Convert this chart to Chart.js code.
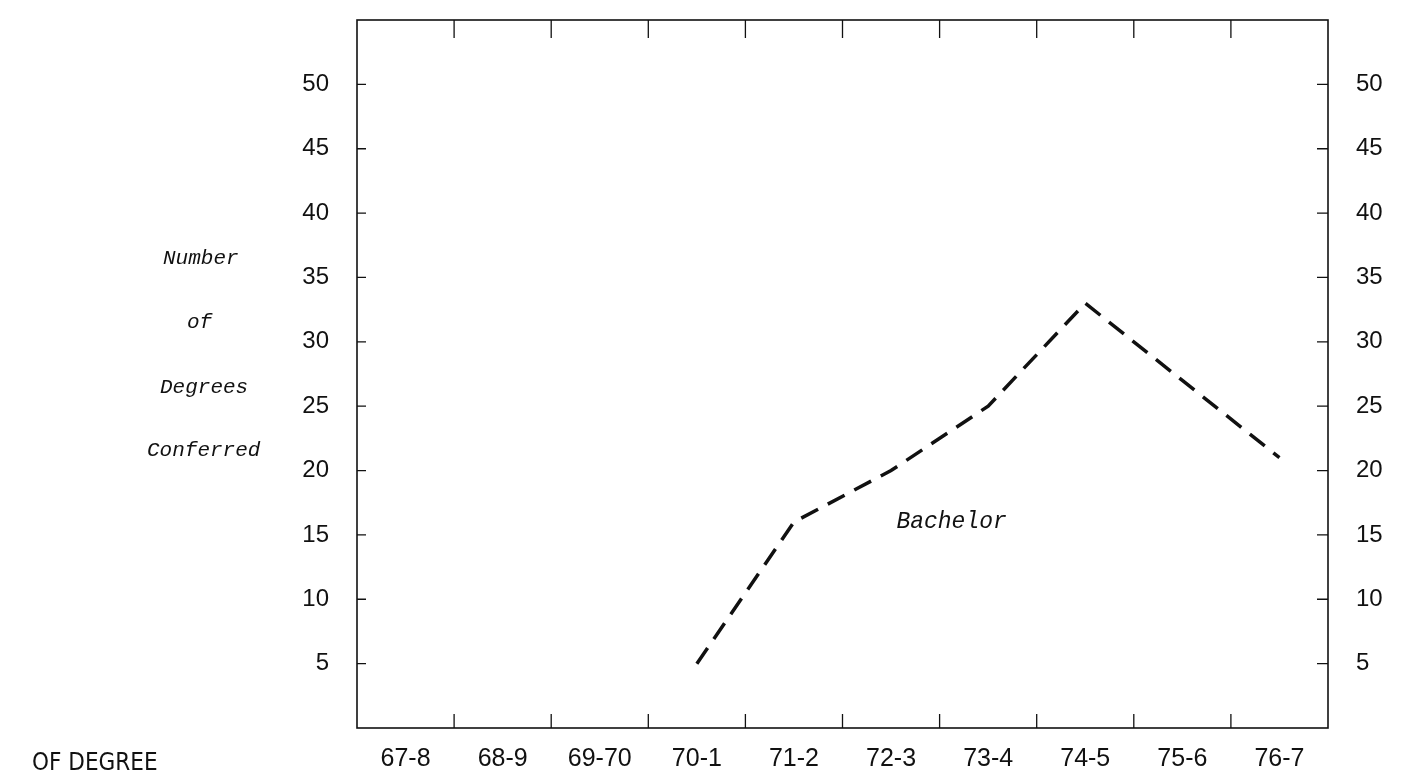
<!DOCTYPE html>
<html>
<head>
<meta charset="utf-8">
<script src="https://cdn.jsdelivr.net/npm/chart.js@4"></script>
<style>
  html, body { margin: 0; padding: 0; background: #fff; }
  #wrap { width: 1409px; height: 776px; position: relative; }
</style>
</head>
<body>
<div id="wrap"><canvas id="c"></canvas></div>
<script>
const years = ["67-8", "68-9", "69-70", "70-1", "71-2", "72-3", "73-4", "74-5", "75-6", "76-7"];
const bachelor = [null, null, null, 5, 16, 20, 25, 33, 27, 21];
const yTicks = [5, 10, 15, 20, 25, 30, 35, 40, 45, 50];
const yTitleLines = ["Number", "of", "Degrees", "Conferred"];

const ink = "#111";

// frame, inward tick marks and loose text
const paperPlugin = {
    id: "paper",
    afterDraw(chart) {
        const { ctx, chartArea: a, scales } = chart;
        const x = scales.x, y = scales.y;
        ctx.save();
        ctx.strokeStyle = ink;
        ctx.lineWidth = 1.6;
        ctx.strokeRect(a.left, a.top, a.right - a.left, a.bottom - a.top);

        ctx.lineWidth = 1.3;
        ctx.beginPath();
        for (let i = 1; i < years.length; i++) {
            const px = (x.getPixelForValue(i - 1) + x.getPixelForValue(i)) / 2;
            ctx.moveTo(px, a.bottom);
            ctx.lineTo(px, a.bottom - 14);
            ctx.moveTo(px, a.top);
            ctx.lineTo(px, a.top + 18);
        }
        yTicks.forEach(v => {
            const py = y.getPixelForValue(v);
            ctx.moveTo(a.left, py);
            ctx.lineTo(a.left + 9, py);
            ctx.moveTo(a.right, py);
            ctx.lineTo(a.right - 11, py);
        });
        ctx.stroke();

        ctx.fillStyle = ink;
        ctx.font = "italic 21px 'Liberation Mono'";
        ctx.textBaseline = "middle";
        ctx.fillText(yTitleLines[0], 163, 258);
        ctx.fillText(yTitleLines[1], 187, 322);
        ctx.fillText(yTitleLines[2], 160, 387);
        ctx.fillText(yTitleLines[3], 147, 450);

        ctx.font = "italic 23px 'Liberation Mono'";
        ctx.textAlign = "center";
        const bx = (x.getPixelForValue(5) + x.getPixelForValue(6)) / 2 + 12;
        ctx.fillText("Bachelor", bx, y.getPixelForValue(16));

        ctx.textAlign = "left";
        ctx.font = "24px 'DejaVu Sans Condensed', 'DejaVu Sans'";
        ctx.fillText("OF DEGREE", 32, 764);
        ctx.restore();
    }
};

const yAxis = (pos, width) => ({
    type: "linear",
    position: pos,
    min: 0,
    max: 55,
    grid: { display: false },
    border: { display: false },
    ticks: {
        stepSize: 5,
        color: ink,
        padding: 20,
        font: { family: "Liberation Sans", size: 24 },
        callback: v => (v === 0 || v === 55 ? "" : v),
    },
    afterFit(scale) {
        scale.width = width;
        scale.paddingTop = 0;
        scale.paddingBottom = 0;
    },
});

new Chart(document.getElementById("c"), {
    type: "line",
    data: {
        labels: years,
        datasets: [
            {
                label: "Bachelor",
                data: bachelor,
                borderColor: ink,
                borderWidth: 3.5,
                borderDash: [19, 11],
                pointRadius: 0,
                tension: 0,
                fill: false,
            },
        ],
    },
    options: {
        responsive: true,
        maintainAspectRatio: false,
        animation: false,
        layout: { padding: { top: 20, left: 0, right: 0, bottom: 0 } },
        scales: {
            x: {
                offset: true,
                grid: { display: false },
                border: { display: false },
                ticks: {
                    color: ink,
                    padding: 8,
                    maxRotation: 0,
                    autoSkip: false,
                    font: { family: "Liberation Sans", size: 25 },
                },
                afterFit(scale) {
                    scale.height = 48;
                    scale.paddingLeft = 0;
                    scale.paddingRight = 0;
                },
            },
            y: yAxis("left", 357),
            y2: yAxis("right", 81),
        },
        plugins: {
            legend: { display: false },
            tooltip: { enabled: false },
        },
    },
    plugins: [paperPlugin],
});
</script>
</body>
</html>
